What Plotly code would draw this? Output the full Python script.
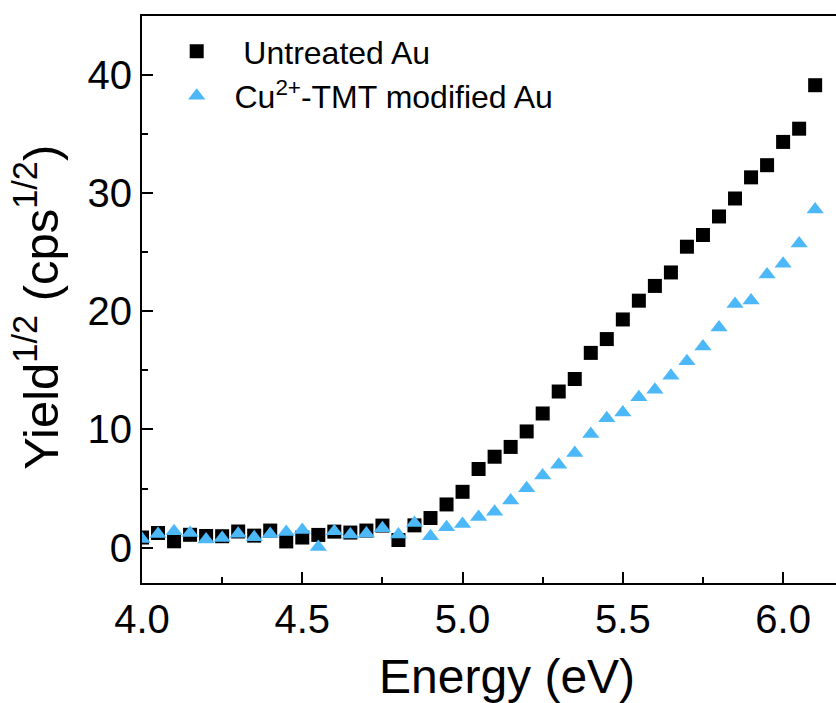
import plotly.graph_objects as go

# Photon energy (eV)
energy = [4.00, 4.05, 4.10, 4.15, 4.20, 4.25, 4.30, 4.35, 4.40, 4.45,
          4.50, 4.55, 4.60, 4.65, 4.70, 4.75, 4.80, 4.85, 4.90, 4.95,
          5.00, 5.05, 5.10, 5.15, 5.20, 5.25, 5.30, 5.35, 5.40, 5.45,
          5.50, 5.55, 5.60, 5.65, 5.70, 5.75, 5.80, 5.85, 5.90, 5.95,
          6.00, 6.05, 6.10]

# Square root of photoemission yield (cps^1/2)
untreated_au = [0.85, 1.23, 0.53, 1.08, 0.98, 0.96, 1.36, 1.01, 1.44, 0.52,
                0.85, 1.07, 1.35, 1.27, 1.44, 1.86, 0.64, 1.88, 2.50, 3.65,
                4.72, 6.65, 7.69, 8.52, 9.83, 11.35, 13.21, 14.27, 16.48, 17.65,
                19.31, 20.90, 22.15, 23.29, 25.47, 26.46, 28.03, 29.55, 31.34, 32.37,
                34.34, 35.46, 39.14]

cu_tmt_au = [0.73, 1.14, 1.39, 1.23, 0.68, 0.80, 1.17, 0.87, 1.14, 1.31,
             1.48, 0.04, 1.38, 1.10, 1.19, 1.63, 1.10, 2.08, 0.96, 1.73,
             1.99, 2.58, 3.03, 3.98, 5.03, 6.09, 7.02, 8.00, 9.62, 10.95,
             11.44, 12.72, 13.36, 14.54, 15.77, 17.02, 18.62, 20.61, 20.92, 23.12,
             24.03, 25.75, 28.62]

x_ticks = [4.0, 4.5, 5.0, 5.5, 6.0]
x_ticklabels = ["4.0", "4.5", "5.0", "5.5", "6.0"]
y_ticks = [0, 10, 20, 30, 40]

FONT = "Liberation Sans, Arial, sans-serif"
BLUE = "#4DB8F8"
NBSP = "\u00a0"

fig = go.Figure()
fig.add_trace(go.Scatter(
    x=energy, y=untreated_au, mode="markers",
    name=NBSP * 3 + "Untreated Au",
    marker=dict(symbol="square", size=14, color="black", line=dict(width=0)),
))
fig.add_trace(go.Scatter(
    x=energy, y=cu_tmt_au, mode="markers",
    name=NBSP * 2 + "Cu<sup>2+</sup>-TMT modified Au",
    marker=dict(symbol="triangle-up", size=15, color=BLUE, line=dict(width=0)),
))

axis_common = dict(
    showline=True, linecolor="black", linewidth=2,
    ticks="inside", tickcolor="black", tickwidth=2, ticklen=11,
    showgrid=False, zeroline=False,
    tickfont=dict(family=FONT, size=40, color="black"),
)

fig.update_xaxes(
    range=[4.0, 6.165], tickvals=x_ticks, ticktext=x_ticklabels,
    mirror=True,
    minor=dict(dtick=0.25, tick0=4.0, ticks="inside", ticklen=6,
               tickwidth=2, tickcolor="black", showgrid=False),
    **axis_common,
)
fig.update_yaxes(
    range=[-3, 45], tickvals=y_ticks,
    minor=dict(dtick=5, tick0=0, ticks="inside", ticklen=6,
               tickwidth=2, tickcolor="black", showgrid=False),
    **axis_common,
)

fig.add_annotation(
    text="Energy (eV)", xref="x", yref="paper", x=5.14, y=0,
    yshift=-65, yanchor="top", showarrow=False,
    font=dict(family=FONT, size=48, color="black"),
)
fig.add_annotation(
    text="Yield<sup>1/2</sup> (cps<sup>1/2</sup>)", xref="paper", yref="y",
    x=0, y=20.3, xshift=-72, xanchor="right", textangle=-90, showarrow=False,
    font=dict(family=FONT, size=49, color="black"),
)

fig.update_layout(
    width=836, height=703,
    margin=dict(l=142, r=0, t=16, b=120),
    paper_bgcolor="white", plot_bgcolor="white",
    showlegend=True,
    legend=dict(
        x=0.05, y=0.986, xanchor="left", yanchor="top",
        bgcolor="rgba(0,0,0,0)", borderwidth=0,
        font=dict(family=FONT, size=32, color="black"),
        tracegroupgap=0,
    ),
)

fig.write_html("out.html")
